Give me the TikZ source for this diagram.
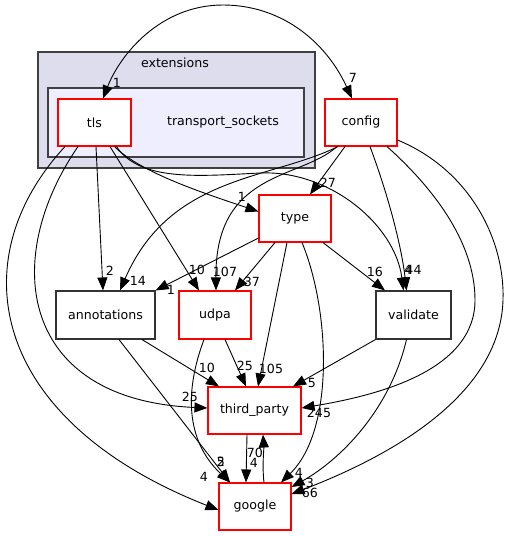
\documentclass[tikz,border=0pt]{standalone}
\usepackage{fontspec}
\setmainfont{DejaVu Sans}
\usetikzlibrary{arrows.meta}

\begin{document}
\begin{tikzpicture}[x=1pt,y=-1pt,
  >={Triangle[length=13pt,width=10pt]},
  every node/.style={font=\fontsize{12.6}{14}\selectfont},
  dirbox/.style={draw=red,fill=white,line width=1.1pt,inner sep=0pt,
    minimum width=#1,minimum height=47pt},
  dirbox/.default=72pt,
  plainbox/.style={dirbox=#1,draw=black!80},
  cluster/.style={draw=black!75,line width=1.3pt,inner sep=0pt},
  lbl/.style={inner sep=0pt},
  dep/.style={->,line width=0.9pt}]

\useasboundingbox (0,0) rectangle (508,536);

\node[cluster, fill={rgb,255:red,221;green,221;blue,238},
  minimum width=277pt, minimum height=116pt] (ext) at (176.5,110) {};
\node[lbl] (extname) at (175,63) {extensions};

\node[cluster, fill={rgb,255:red,238;green,238;blue,255},
  minimum width=256pt, minimum height=69pt] (ts) at (176,122.5) {};
\node[lbl] (tsname) at (223,122) {transport\_sockets};

\node[dirbox=73pt] (tls) at (94.5,122.5) {tls};

\node[dirbox] (config) at (361,122.5) {config};

\node[dirbox] (type) at (295,218.5) {type};

\node[plainbox=99pt, minimum height=48pt] (annotations) at (105.5,315) {annotations};

\node[dirbox, minimum height=48pt] (udpa) at (215,315) {udpa};

\node[plainbox=75pt, minimum height=48pt] (validate) at (413.5,315) {validate};

\node[dirbox=93pt] (third) at (254.5,410.5) {third\_party};

\node[dirbox] (google) at (255,506.5) {google};

% tls and config, both ways on one curve
\draw[dep, <->] ([xshift=8.5pt]tls.north) .. controls (120,55) and (160,5) .. (223,5)
  .. controls (280,5) and (325,40) .. ([xshift=-9pt]config.north);
\node[lbl] (l7) at (353,78) {7};
\node[lbl] (l1a) at (117,83) {1};

% from tls
\draw[dep] ([xshift=20pt]tls.south) .. controls (140,172) and (200,192) .. ([yshift=7pt]type.west);
\node[lbl] (l1b) at (242,197) {1};

\draw[dep] ([xshift=1.5pt]tls.south) -- ([xshift=-2.5pt]annotations.north);
\node[lbl] (l2a) at (110,271) {2};

\draw[dep] ([xshift=15.5pt]tls.south) -- ([xshift=-16pt]udpa.north);
\node[lbl] (l10a) at (197,270) {10};

\draw[dep] ([xshift=22pt]tls.south) .. controls (140,182) and (200,176) .. (260,173)
  .. controls (330,170) and (395,225) .. ([xshift=-10pt]validate.north);
\node[lbl] (l4a) at (408,270) {4};

\draw[dep] ([xshift=-16.5pt]tls.south) .. controls (0,260) and (20,400) .. ([yshift=2.5pt]third.west);
\node[lbl] (l25a) at (190,397) {25};

\draw[dep] ([xshift=-29.5pt]tls.south) .. controls (-40,260) and (-10,420) .. ([yshift=-3.5pt]google.west);
\node[lbl] (l4b) at (204,477) {4};

% from config
\draw[dep] ([xshift=-23pt]config.south) .. controls (270,180) and (170,175) .. ([xshift=14.5pt]annotations.north);
\node[lbl] (l14) at (138,281) {14};

\draw[dep] ([xshift=-24pt]config.south) .. controls (300,180) and (215,170) .. ([xshift=1pt]udpa.north);
\node[lbl] (l107) at (225,272) {107};

\draw[dep] ([xshift=-16pt]config.south) -- ([xshift=15pt]type.north);
\node[lbl] (l27) at (328,183) {27};

\draw[dep] ([xshift=9pt]config.south) .. controls (390,200) and (402,250) .. ([xshift=-7pt]validate.north);
\node[lbl] (l44) at (413.5,270) {44};

\draw[dep] ([xshift=26pt]config.south) .. controls (430,185) and (475,240) .. (475,300)
  .. controls (475,370) and (380,395) .. ([yshift=2.5pt]third.east);
\node[lbl] (l245) at (319,413) {245};

\draw[dep] ([yshift=-17.5pt]config.east) .. controls (470,170) and (505,240) .. (503,300)
  .. controls (500,400) and (380,460) .. ([yshift=12.5pt]google.east);
\node[lbl] (l66) at (310,493) {66};

% from type
\draw[dep] ([yshift=-19.5pt]type.west) -- (annotations.north east);
\node[lbl] (l1c) at (171,290) {1};

\draw[dep] ([xshift=-20pt]type.south) -- ([xshift=20pt]udpa.north);
\node[lbl] (l37) at (252,282) {37};

\draw[dep] ([xshift=-8pt]type.south) -- ([xshift=3.5pt]third.north);
\node[lbl] (l105) at (271,369) {105};

\draw[dep] ([xshift=7pt]type.south) .. controls (330,310) and (335,430) .. ([xshift=26pt]google.north);
\node[lbl] (l4c) at (299,473) {4};

\draw[dep] ([xshift=28pt]type.south) -- ([xshift=-28.5pt]validate.north);
\node[lbl] (l16) at (375,272) {16};

% lower level
\draw[dep] ([xshift=36.5pt]annotations.south) -- ([xshift=-35.5pt]third.north);
\node[lbl] (l10b) at (207,368) {10};

\draw[dep] ([xshift=13.5pt]annotations.south) -- ([xshift=-25pt]google.north);
\node[lbl] (l2b) at (221,462) {2};

\draw[dep] ([xshift=10pt]udpa.south) -- ([xshift=-8.5pt]third.north);
\node[lbl] (l25b) at (245,366) {25};

\draw[dep] ([xshift=-11pt]udpa.south) .. controls (185,390) and (185,440) .. ([xshift=-25pt]google.north);
\node[lbl] (l5a) at (221,462) {5};

\draw[dep] (validate.south west) -- ([xshift=38.5pt]third.north);
\node[lbl] (l5b) at (312,383) {5};

\draw[dep] ([xshift=-7pt]validate.south) .. controls (390,410) and (340,460) .. ([yshift=19.5pt]google.east);
\node[lbl] (l3) at (310,483) {3};

\draw[dep] ([xshift=-7.5pt]third.south) -- ([xshift=-9pt]google.north);
\node[lbl] (l4d) at (254,463) {4};

\draw[dep] ([xshift=9pt]google.north) .. controls (262,465) and (264,450) .. ([xshift=8.5pt]third.south);
\node[lbl] (l70) at (255,453) {70};

\end{tikzpicture}
\end{document}
